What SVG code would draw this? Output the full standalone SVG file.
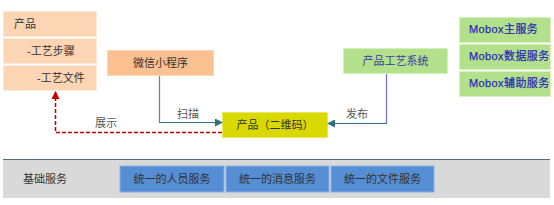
<svg xmlns="http://www.w3.org/2000/svg" width="554" height="205" viewBox="0 0 554 205">
<style>
text{font-family:"Liberation Sans","Noto Sans CJK SC",sans-serif;font-size:11px;fill:#333}
.peach{fill:#fcd5b4;stroke:#fde9d9;stroke-width:1}
.green{fill:#b3e08a;stroke:#d7f0c0;stroke-width:1}
.blue{fill:#558ed5;stroke:#8db3e2;stroke-width:1}
.bt{fill:#2a2ab8;stroke:#2a2ab8;stroke-width:0.25;letter-spacing:0.4px}
.lbl{fill:#555}
</style>
<defs>
<marker id="ah" markerWidth="8" markerHeight="8" refX="7" refY="4" orient="auto" markerUnits="userSpaceOnUse">
<path d="M0,0 L8,4 L0,8 Z" fill="#2f6f7f"/>
</marker>
<marker id="ahr" markerWidth="8" markerHeight="8" refX="7" refY="4" orient="auto" markerUnits="userSpaceOnUse">
<path d="M0,0 L8,4 L0,8 Z" fill="#c00000"/>
</marker>
</defs>
<rect width="554" height="205" fill="#fff"/>
<g id="base">
<rect x="3" y="159" width="547" height="39" fill="#d9d9d9"/>
<line x1="3" y1="159.5" x2="550" y2="159.5" stroke="#5a6a7a" stroke-width="1"/>
<text x="23" y="183">基础服务</text>
</g>
<g id="svc1"><rect class="blue" x="120" y="166" width="104" height="26"/><text x="172" y="183" text-anchor="middle">统一的人员服务</text></g>
<g id="svc2"><rect class="blue" x="226" y="166" width="103" height="26"/><text x="277.5" y="183" text-anchor="middle">统一的消息服务</text></g>
<g id="svc3"><rect class="blue" x="331" y="166" width="103" height="26"/><text x="382.5" y="183" text-anchor="middle">统一的文件服务</text></g>
<g id="product">
<rect class="peach" x="3.5" y="11.5" width="93" height="25"/>
<rect class="peach" x="3.5" y="38.5" width="93" height="25"/>
<rect class="peach" x="3.5" y="65.5" width="93" height="25"/>
<text x="14" y="28">产品</text>
<text x="27" y="55">-工艺步骤</text>
<text x="37" y="82">-工艺文件</text>
</g>
<g id="wechat"><rect x="107.5" y="50.5" width="106" height="25" fill="#fac090" stroke="#fcd5b4"/><text x="160.5" y="67" text-anchor="middle">微信小程序</text></g>
<g id="craft"><rect class="green" x="343.5" y="48.5" width="104" height="25"/><text x="395.5" y="65" text-anchor="middle" style="fill:#3a3aa8">产品工艺系统</text></g>
<g id="qrcode"><rect x="222.5" y="112.5" width="105" height="25" fill="#d9d900" stroke="#e8e860"/><text x="275" y="129" text-anchor="middle">产品（二维码）</text></g>
<g id="mobox1"><rect class="green" x="459.5" y="17.5" width="91" height="25"/><text class="bt" x="469" y="33">Mobox主服务</text></g>
<g id="mobox2"><rect class="green" x="459.5" y="44.5" width="91" height="25"/><text class="bt" x="469" y="60">Mobox数据服务</text></g>
<g id="mobox3"><rect class="green" x="459.5" y="71.5" width="91" height="25"/><text class="bt" x="469" y="87">Mobox辅助服务</text></g>
<g id="connectors">
<polyline points="159.5,76 159.5,122.5" fill="none" stroke="#7070f0" stroke-width="1.2"/>
<polyline points="159,122.5 222,122.5" fill="none" stroke="#2f6f7f" stroke-width="1.2" marker-end="url(#ah)"/>
<polyline points="386.5,74 386.5,123.5" fill="none" stroke="#7070f0" stroke-width="1.2"/>
<polyline points="387,123.5 328,123.5" fill="none" stroke="#2f6f7f" stroke-width="1.2" marker-end="url(#ah)"/>
<polyline points="222,132.5 55.5,132.5 55.5,92" fill="none" stroke="#c00000" stroke-width="1.5" stroke-dasharray="4,2" marker-end="url(#ahr)"/>
<text class="lbl" x="188" y="118" text-anchor="middle">扫描</text>
<text class="lbl" x="357" y="118" text-anchor="middle">发布</text>
<text class="lbl" x="106" y="127" text-anchor="middle">展示</text>
</g>
</svg>
